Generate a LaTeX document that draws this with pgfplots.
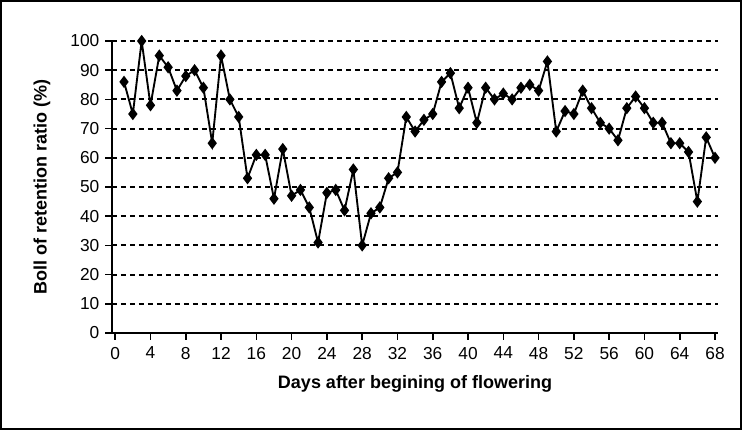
\documentclass[border=0pt]{standalone}
\usepackage{fontspec}
\setmainfont{Liberation Sans}
\usepackage{pgfplots}
\pgfplotsset{compat=1.18}

\pgfplotstableread{
day ratio
1 86
2 75
3 100
4 78
5 95
6 91
7 83
8 88
9 90
10 84
11 65
12 95
13 80
14 74
15 53
16 61
17 61
18 46
19 63
20 47
21 49
22 43
23 31
24 48
25 49
26 42
27 56
28 30
29 41
30 43
31 53
32 55
33 74
34 69
35 73
36 75
37 86
38 89
39 77
40 84
41 72
42 84
43 80
44 82
45 80
46 84
47 85
48 83
49 93
50 69
51 76
52 75
53 83
54 77
55 72
56 70
57 66
58 77
59 81
60 77
61 72
62 72
63 65
64 65
65 62
66 45
67 67
68 60
}\retention

\begin{document}
\begin{tikzpicture}
\begin{axis}[
    scale only axis,
    width=454.5pt,
    height=219pt,
    xmin=-0.363, xmax=68.34,
    ymin=0, ymax=100,
    xtick={0,4,...,68},
    ytick={0,10,...,100},
    axis lines*=left,
    axis line style={-, line width=1.5pt},
    tick align=outside,
    major tick length=5pt,
    tick style={black, line width=1.2pt},
    ymajorgrids=true,
    grid style={black, line width=1.4pt, dash pattern=on 3.75pt off 3pt},
    /pgf/number format/assume math mode=true,
    ticklabel style={font=\fontsize{13}{15}\selectfont},
    xticklabel style={yshift=-2pt},
    yticklabel style={xshift=-1pt},
    xlabel={Days after begining of flowering},
    ylabel={Boll of retention ratio (\%)},
    xlabel style={font=\fontsize{13.5}{15}\selectfont\bfseries,
        at={(axis description cs:0.5,-0.1747)}, anchor=center},
    ylabel style={font=\fontsize{13.5}{15}\selectfont\bfseries,
        at={(axis description cs:-0.1155,0.5)}, anchor=center},
]
\addplot[black, line width=1.4pt, mark=diamond*, mark size=3.5pt,
    mark options={solid, fill=black}] table[x=day, y=ratio] {\retention};
\end{axis}
% chart border
\draw[line width=1.5pt] (-83.25pt,-72pt) rectangle (471.75pt,249pt);
\end{tikzpicture}
\end{document}
